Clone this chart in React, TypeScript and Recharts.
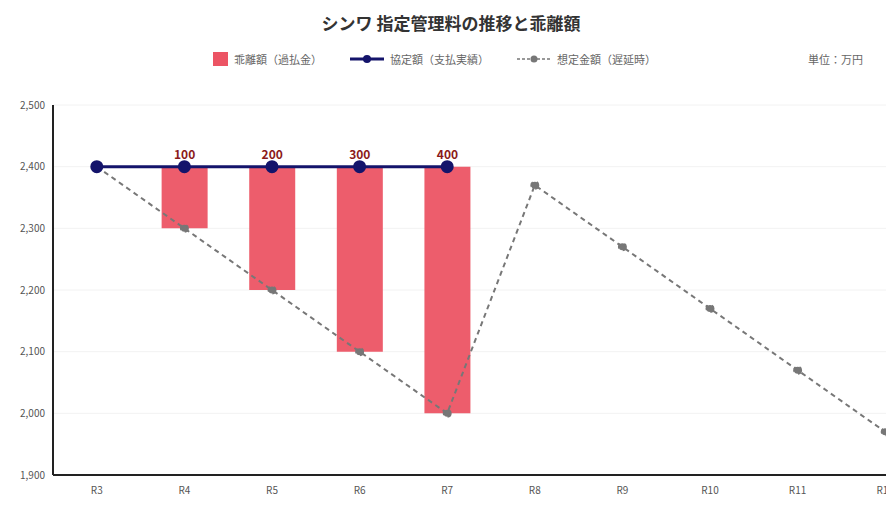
import React from 'react';
import {
  ComposedChart,
  Bar,
  Line,
  XAxis,
  YAxis,
  CartesianGrid,
  LabelList,
} from 'recharts';

const categories = ['R3', 'R4', 'R5', 'R6', 'R7', 'R8', 'R9', 'R10', 'R11', 'R12'];
// 協定額（支払実績）
const agreed = [2400, 2400, 2400, 2400, 2400, null, null, null, null, null];
// 乖離額（過払金）
const gaps = [null, 100, 200, 300, 400, null, null, null, null, null];
// 想定金額（遅延時）
const projected = [2400, 2300, 2200, 2100, 2000, 2370, 2270, 2170, 2070, 1970];
const yTicks = [1900, 2000, 2100, 2200, 2300, 2400, 2500];

const data = categories.map((name, i) => ({
  name,
  agreed: agreed[i],
  gap: gaps[i],
  range:
    gaps[i] != null && agreed[i] != null ? [agreed[i]! - gaps[i]!, agreed[i]] : null,
  projected: projected[i],
}));

const GapLabel = (props: any) => {
  const { x, y, width, value } = props;
  if (value == null) return null;
  return (
    <text
      x={x + width / 2}
      y={y - 8}
      textAnchor="middle"
      fill="#8b1a1a"
      fontSize={12}
      fontWeight="bold"
    >
      {value}
    </text>
  );
};

const legendText = { fontSize: 11, color: '#666' };

export default function App() {
  return (
    <div
      style={{
        position: 'relative',
        width: 886,
        height: 517,
        overflow: 'hidden',
        fontFamily: '"Noto Sans CJK JP", "Noto Sans", sans-serif',
        background: '#fff',
      }}
    >
      <div
        style={{
          position: 'absolute',
          top: 2,
          left: 0,
          width: 886,
          textAlign: 'center',
          fontSize: 17,
          fontWeight: 'bold',
          color: '#333',
        }}
      >
        シンワ 指定管理料の推移と乖離額
      </div>

      {/* Legend */}
      <div
        style={{
          position: 'absolute',
          top: 43,
          left: 205,
          display: 'flex',
          alignItems: 'center',
          gap: 28,
          ...legendText,
        }}
      >
        <div style={{ display: 'flex', alignItems: 'center', gap: 6 }}>
          <span style={{ width: 15, height: 14, background: '#ec5464', display: 'inline-block' }} />
          <span>乖離額（過払金）</span>
        </div>
        <div style={{ display: 'flex', alignItems: 'center', gap: 6 }}>
          <svg width={34} height={12}>
            <line x1={0} y1={6} x2={34} y2={6} stroke="#14146b" strokeWidth={3} />
            <circle cx={17} cy={6} r={4} fill="#14146b" />
          </svg>
          <span>協定額（支払実績）</span>
        </div>
        <div style={{ display: 'flex', alignItems: 'center', gap: 6 }}>
          <svg width={34} height={12}>
            <line x1={0} y1={6} x2={34} y2={6} stroke="#777" strokeWidth={1.5} strokeDasharray="3 2" />
            <circle cx={17} cy={6} r={3.5} fill="#777" />
          </svg>
          <span>想定金額（遅延時）</span>
        </div>
      </div>
      <div style={{ position: 'absolute', top: 43, left: 800, ...legendText }}>単位：万円</div>

      <div style={{ position: 'absolute', top: 0, left: 0 }}>
        <ComposedChart
          width={930}
          height={517}
          data={data}
          margin={{ top: 97, right: 9, left: 0, bottom: 20 }}
          barCategoryGap="24%"
        >
          <CartesianGrid stroke="#f2f2f2" vertical={false} />
          <XAxis
            dataKey="name"
            axisLine={{ stroke: '#222', strokeWidth: 2 }}
            tickLine={false}
            tickMargin={6}
            height={30}
            tick={{ fill: '#555', fontSize: 10 }}
            interval={0}
          />
          <YAxis
            domain={[1900, 2500]}
            ticks={yTicks}
            width={45}
            axisLine={{ stroke: '#222', strokeWidth: 2 }}
            tickLine={false}
            tick={{ fill: '#555', fontSize: 10 }}
            tickFormatter={(v: number) => v.toLocaleString('en-US')}
          />
          <Bar dataKey="range" fill="#ec5464" fillOpacity={0.95} isAnimationActive={false}>
            <LabelList dataKey="gap" content={GapLabel} />
          </Bar>
          <Line
            dataKey="projected"
            stroke="#777"
            strokeWidth={2}
            strokeDasharray="5 4"
            dot={{ r: 3.5, fill: '#777', stroke: '#777' }}
            isAnimationActive={false}
          />
          <Line
            dataKey="agreed"
            stroke="#14146b"
            strokeWidth={3}
            dot={{ r: 5, fill: '#14146b', stroke: '#14146b' }}
            connectNulls={false}
            isAnimationActive={false}
          />
        </ComposedChart>
      </div>
    </div>
  );
}
